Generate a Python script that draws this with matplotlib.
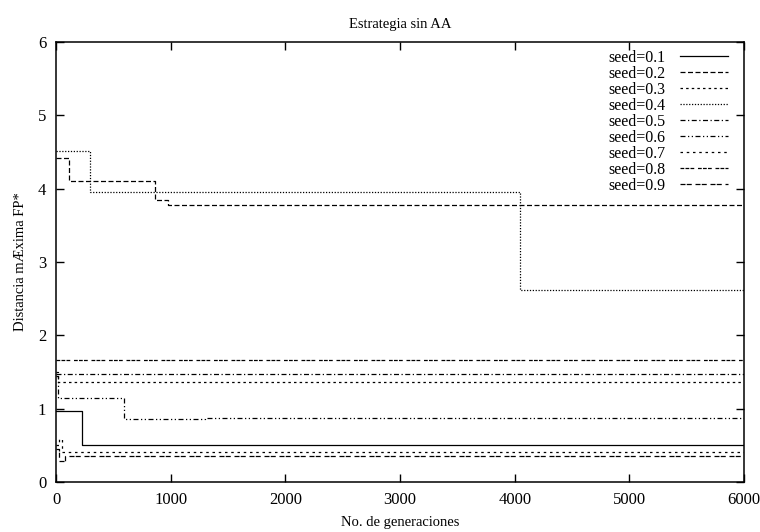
import numpy as np
import matplotlib.pyplot as plt

plt.rcParams['font.family'] = ['Liberation Serif', 'DejaVu Serif']

# step curves: generation where the value changes, and the value
gens_01 = [0, 225, 6000]
dist_01 = [0.97, 0.50, 0.50]

gens_02 = [0, 110, 865, 980, 6000]
dist_02 = [4.42, 4.10, 3.85, 3.78, 3.78]

gens_03 = [0, 15, 6000]
dist_03 = [1.50, 1.37, 1.37]

gens_04 = [0, 300, 4050, 6000]
dist_04 = [4.52, 3.96, 2.62, 2.62]

gens_05 = [0, 6000]
dist_05 = [1.47, 1.47]

gens_06 = [0, 20, 590, 1300, 6000]
dist_06 = [1.45, 1.15, 0.865, 0.877, 0.877]

gens_07 = [0, 30, 50, 6000]
dist_07 = [0.50, 0.58, 0.41, 0.41]

gens_08 = [0, 6000]
dist_08 = [1.66, 1.66]

gens_09 = [0, 30, 80, 6000]
dist_09 = [0.45, 0.28, 0.36, 0.36]

labels = ['seed=0.1', 'seed=0.2', 'seed=0.3', 'seed=0.4', 'seed=0.5',
          'seed=0.6', 'seed=0.7', 'seed=0.8', 'seed=0.9']
series = [(gens_01, dist_01), (gens_02, dist_02), (gens_03, dist_03),
          (gens_04, dist_04), (gens_05, dist_05), (gens_06, dist_06),
          (gens_07, dist_07), (gens_08, dist_08), (gens_09, dist_09)]
dash_styles = ['-', (0, (4, 2)), (0, (2, 2.5)), (0, (1, 1.3)),
               (0, (4, 2, 1, 2)), (0, (4, 2, 1, 2, 1, 2)), (0, (2, 3)),
               (0, (3, 1, 3, 1, 3, 3)), (0, (4, 1, 4, 3))]

fig = plt.figure(figsize=(7.6, 5.32), dpi=100)
ax = fig.add_axes([0.0737, 0.094, 0.9053, 0.827])

for (g, d), lab, ls in zip(series, labels, dash_styles):
    ax.plot(g, d, drawstyle='steps-post', color='black', lw=0.9,
            linestyle=ls, label=lab)

ax.set_xlim(0, 6000)
ax.set_ylim(0, 6)
ax.set_xticks(np.arange(0, 6001, 1000))
ax.set_yticks(np.arange(0, 7, 1))
ax.tick_params(direction='in', length=6, width=1, top=True, right=True,
               labelsize=12, pad=7)
for s in ax.spines.values():
    s.set_linewidth(1.1)

ax.set_title('Estrategia sin AA', fontsize=10.5, pad=10)
ax.set_xlabel('No. de generaciones', fontsize=10.5, labelpad=6)
ax.set_ylabel('Distancia mÆxima FP*', fontsize=10.5, labelpad=8)

leg = ax.legend(loc='upper right', bbox_to_anchor=(0.988, 1.0),
                frameon=False, markerfirst=False,
                fontsize=11.5, handlelength=3.0, labelspacing=0.0,
                borderaxespad=0.2, borderpad=0.3, handletextpad=0.9)

fig.savefig('out.png', dpi=100)
